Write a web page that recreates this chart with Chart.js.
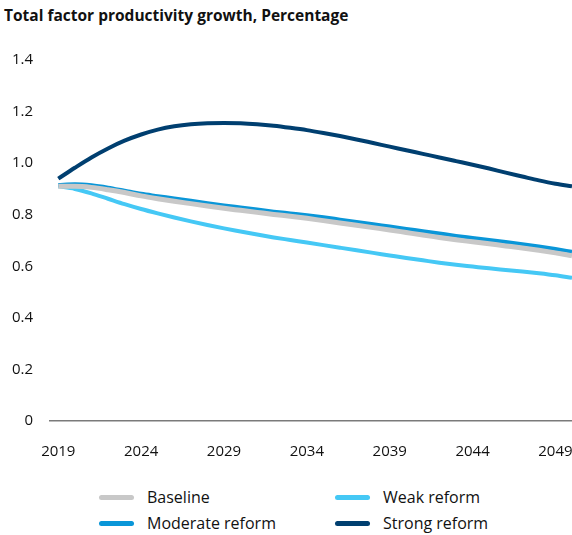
<!DOCTYPE html>
<html>
<head>
<meta charset="utf-8">
<script src="https://cdn.jsdelivr.net/npm/chart.js@4.4.1/dist/chart.umd.min.js"></script>
<style>
  html, body { margin: 0; padding: 0; background: #fff; }
  body { width: 572px; height: 535px; position: relative; overflow: hidden; font-family: "Open Sans", Lato, sans-serif; color: #111; }
  #title { position: absolute; left: 4px; top: 4px; font-weight: bold; font-size: 15.5px; }
  #wrap { position: absolute; left: 0; top: 0; width: 572px; height: 475px; }
  .legend { position: absolute; font-size: 16px; display: flex; align-items: center; line-height: 20px; }
  .legend span.sw { display: inline-block; width: 35px; height: 5px; border-radius: 3px; margin-right: 13px; }
</style>
</head>
<body>
<div id="title">Total factor productivity growth, Percentage</div>
<div id="wrap"><canvas id="tfpChart"></canvas></div>
<div id="legend"></div>
<script>
const years = [];
for (let y = 2019; y <= 2050; y++) years.push(y);

const xTickValues = [2019, 2024, 2029, 2034, 2039, 2044, 2049];
const yTickValues = [0, 0.2, 0.4, 0.6, 0.8, 1.0, 1.2, 1.4];
const yTickLabels = ['0', '0.2', '0.4', '0.6', '0.8', '1.0', '1.2', '1.4'];

const baseline = [0.910, 0.910, 0.906, 0.897, 0.886, 0.873, 0.862, 0.852, 0.843, 0.834,
                  0.825, 0.817, 0.809, 0.801, 0.794, 0.786, 0.777, 0.768, 0.759, 0.750,
                  0.741, 0.731, 0.721, 0.712, 0.703, 0.695, 0.687, 0.679, 0.671, 0.662,
                  0.652, 0.641];
const weak = [0.910, 0.900, 0.883, 0.862, 0.841, 0.822, 0.805, 0.789, 0.774, 0.760,
              0.747, 0.735, 0.723, 0.712, 0.702, 0.692, 0.682, 0.672, 0.662, 0.652,
              0.642, 0.632, 0.623, 0.614, 0.606, 0.599, 0.592, 0.586, 0.580, 0.573,
              0.565, 0.555];
const moderate = [0.915, 0.918, 0.914, 0.905, 0.893, 0.881, 0.872, 0.863, 0.854, 0.845,
                  0.836, 0.828, 0.820, 0.812, 0.805, 0.798, 0.790, 0.781, 0.772, 0.763,
                  0.754, 0.745, 0.736, 0.727, 0.718, 0.710, 0.702, 0.694, 0.686, 0.677,
                  0.667, 0.656];
const strong = [0.940, 0.982, 1.022, 1.057, 1.087, 1.111, 1.130, 1.143, 1.151, 1.155,
                1.156, 1.155, 1.151, 1.145, 1.137, 1.128, 1.117, 1.105, 1.092, 1.078,
                1.064, 1.050, 1.036, 1.022, 1.008, 0.994, 0.979, 0.963, 0.948, 0.933,
                0.920, 0.910];

const seriesNames = ['Baseline', 'Weak reform', 'Moderate reform', 'Strong reform'];
const seriesColors = ['#c8c8c8', '#45c8f5', '#0a96d8', '#003f70'];
const seriesData = [baseline, weak, moderate, strong];
const seriesWidths = [5, 4, 4, 4];

const toPoints = arr => arr.map((v, i) => ({ x: years[i], y: v }));

const datasets = seriesData.map((d, i) => ({
    label: seriesNames[i],
    data: toPoints(d),
    borderColor: seriesColors[i],
    backgroundColor: seriesColors[i],
    borderWidth: seriesWidths[i],
    pointRadius: 0,
    cubicInterpolationMode: 'monotone',
    fill: false
}));
// moderate sits above baseline in the picture
const order = [0, 2, 1, 3];

new Chart(document.getElementById('tfpChart'), {
    type: 'line',
    data: { datasets: order.map(i => datasets[i]) },
    options: {
        responsive: true,
        maintainAspectRatio: false,
        animation: false,
        layout: { padding: { top: 60, right: 0, left: 0, bottom: 0 } },
        plugins: {
            legend: { display: false },
            tooltip: { enabled: false }
        },
        scales: {
            x: {
                type: 'linear',
                min: 2018.5,
                max: 2050,
                grid: { display: false, drawTicks: false },
                border: { display: true, color: '#7a7a7a', width: 1.5 },
                afterBuildTicks: axis => { axis.ticks = xTickValues.map(v => ({ value: v })); },
                afterFit: axis => { axis.height = 54; axis.paddingRight = 0; axis.paddingLeft = 0; },
                ticks: {
                    autoSkip: false,
                    maxRotation: 0,
                    padding: 22,
                    color: '#111',
                    font: { family: '"Open Sans", Lato, sans-serif', size: 15 },
                    callback: v => String(v)
                }
            },
            y: {
                min: 0,
                max: 1.4,
                grid: { display: false, drawTicks: false },
                border: { display: false },
                afterBuildTicks: axis => { axis.ticks = yTickValues.map(v => ({ value: v })); },
                afterFit: axis => { axis.width = 50; },
                ticks: {
                    padding: 17,
                    color: '#111',
                    font: { family: '"Open Sans", Lato, sans-serif', size: 15 },
                    callback: (v, i) => yTickLabels[i]
                }
            }
        }
    }
});

// two-column legend under the chart
const legendPos = [
    { left: 99, top: 487 },   // Baseline
    { left: 335, top: 487 },  // Weak reform
    { left: 99, top: 513 },   // Moderate reform
    { left: 335, top: 513 }   // Strong reform
];
const legendEl = document.getElementById('legend');
seriesNames.forEach((name, i) => {
    const item = document.createElement('div');
    item.className = 'legend';
    item.style.left = legendPos[i].left + 'px';
    item.style.top = legendPos[i].top + 'px';
    item.innerHTML = '<span class="sw" style="background:' + seriesColors[i] + '"></span>' + name;
    legendEl.appendChild(item);
});
</script>
</body>
</html>
